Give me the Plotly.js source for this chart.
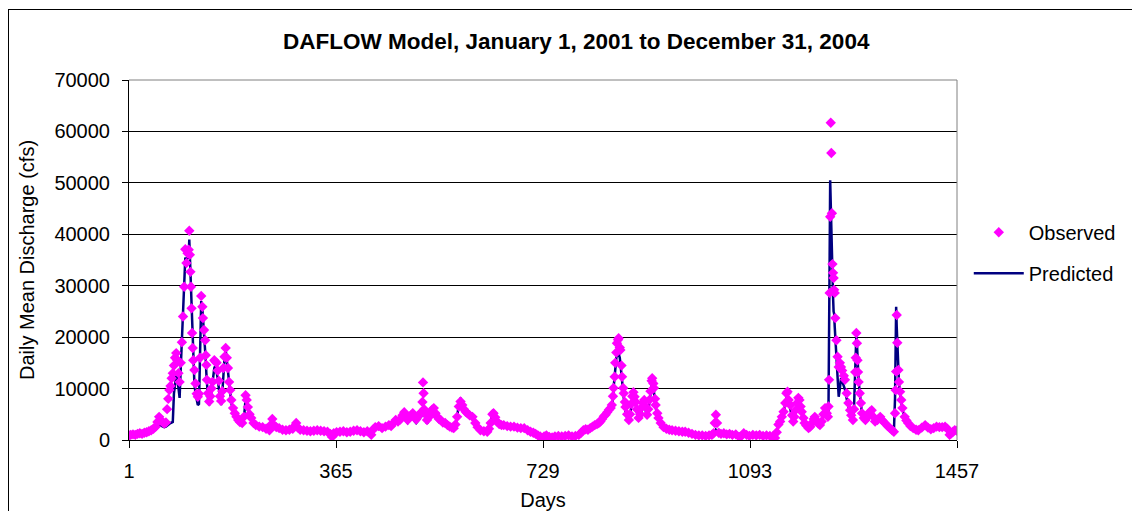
<!DOCTYPE html>
<html>
<head>
<meta charset="utf-8">
<script src="https://cdn.plot.ly/plotly-3.0.1.min.js"></script>
<style>
  html, body { margin: 0; padding: 0; background: #fff; overflow: hidden; }
  #chart { position: absolute; left: 0; top: 0; width: 1132px; height: 511px; }
  #frame { position: absolute; left: 8px; top: 9px; width: 1300px; height: 700px; border: 1px solid #000; pointer-events: none; }
</style>
</head>
<body>
<div id="chart"></div>
<div id="frame"></div>
<script>
// ---- data ----
const days = [
  1,4,8,12,16,20,24,28,32,36,
  40,44,48,51,54,57,60,63,66,68,
  70,72,74,76,78,80,82,84,86,88,
  90,92,94,96,98,100,102,104,106,107,
  108,109,110,111,112,113,114,116,118,120,
  122,124,126,128,130,131,133,135,136,137,
  138,140,142,144,146,148,151,153,155,157,
  159,161,163,165,167,169,171,173,175,177,
  179,181,184,187,190,193,196,200,203,206,
  208,210,213,216,220,224,230,236,242,248,
  251,253,256,260,265,271,277,283,289,293,
  295,298,302,308,314,320,326,332,338,344,
  350,355,358,361,366,372,378,384,390,396,
  402,408,414,420,424,427,430,434,440,446,
  452,458,462,466,470,474,478,482,485,488,
  491,494,497,500,503,506,509,512,515,517,
  518,519,520,522,525,528,531,534,537,540,
  543,546,549,553,557,561,565,569,572,575,
  578,581,584,587,590,593,596,600,605,610,
  614,619,625,631,634,637,640,642,645,648,
  652,656,660,666,672,678,684,690,696,702,
  707,712,716,720,724,727,731,735,740,745,
  750,756,762,768,774,780,786,792,796,800,
  804,808,812,816,820,824,827,830,833,836,
  839,842,845,848,850,852,853,855,856,858,
  859,861,862,864,865,867,868,870,871,873,
  874,877,880,882,884,886,888,890,892,894,
  897,900,903,905,907,909,912,914,916,918,
  920,921,923,924,926,927,930,932,936,941,
  946,951,956,962,968,974,979,985,991,997,
  1003,1009,1015,1021,1026,1029,1031,1033,1035,1038,
  1042,1047,1052,1057,1062,1068,1074,1078,1082,1087,
  1092,1098,1104,1110,1116,1122,1128,1133,1137,1140,
  1143,1146,1149,1152,1155,1157,1159,1161,1164,1167,
  1169,1171,1173,1176,1178,1180,1182,1184,1187,1189,
  1192,1196,1199,1202,1205,1207,1210,1213,1216,1219,
  1222,1225,1228,1230,1231,1232,1233,1234,1235,1236,
  1237,1238,1239,1240,1241,1242,1243,1245,1247,1249,
  1251,1253,1255,1258,1260,1263,1266,1269,1271,1274,
  1276,1278,1279,1280,1281,1282,1283,1284,1286,1288,
  1290,1293,1296,1300,1304,1307,1310,1313,1317,1322,
  1326,1330,1335,1339,1343,1346,1348,1349,1350,1351,
  1352,1354,1355,1357,1359,1361,1365,1368,1371,1375,
  1380,1385,1389,1395,1401,1406,1411,1416,1421,1426,
  1431,1436,1440,1444,1447,1450,1453,1457
];

const observed = [
  900,1000,1100,1000,1200,1300,1200,1400,1500,1700,
  1900,2200,2600,3500,4500,3800,3500,3200,3400,6000,
  8000,9700,10500,12000,13000,14500,16000,16900,15500,13000,
  11300,15000,19000,24000,29800,37100,34400,36300,37000,40700,
  36000,32700,29800,25600,20800,17900,15500,13600,11000,9000,
  8400,9000,16000,28000,25900,23700,21400,19400,16500,14600,
  11700,9100,7500,8500,10000,11300,15500,15200,15000,13500,
  11500,8500,7600,9500,14000,16200,17900,16000,14000,11300,
  9700,7800,6200,5200,4500,3900,3500,3300,4500,8700,
  7800,6400,5000,4300,3300,2900,2600,2500,2200,1900,
  3000,4100,2900,2500,2300,2000,1900,2000,2200,2800,
  3300,2400,2000,1900,1800,1700,1800,1900,1800,1700,
  1600,1200,600,1300,1500,1600,1700,1500,1600,1800,
  1900,1700,1500,1700,1400,1000,2000,2500,2700,2300,
  2600,2900,2700,3300,3900,3600,4000,4800,5400,4500,
  3900,4400,4800,5200,4500,4000,4500,5000,5400,7400,
  11200,9100,6000,5200,3900,4400,5200,5900,6200,5200,
  4500,4100,3900,3400,3300,2900,2600,2400,2300,3000,
  4500,6500,7500,6800,6000,5500,5200,4800,4500,3300,
  2500,1900,1700,1600,2200,3300,5000,5200,4400,3600,
  3100,2900,2900,2700,2600,2600,2400,2300,2300,1900,
  1600,1400,1200,900,700,400,700,900,600,500,
  700,800,700,800,900,700,800,1000,1400,1900,
  2100,2000,2300,2600,2900,3100,3300,3600,4100,4600,
  4900,5400,5900,6200,6800,8500,10100,12300,15000,17000,
  18800,19500,19800,18000,17500,14500,12300,10100,9100,7400,
  6400,5000,3900,5000,7000,8500,9300,8400,7400,6000,
  4300,5000,6400,7200,7800,6500,4900,6000,7800,9500,
  11500,12000,11000,10100,8000,6800,5200,4300,3300,2500,
  2200,2000,1900,1800,1700,1600,1600,1400,1200,1000,
  900,900,800,900,1000,1300,3300,4900,3300,1400,
  1200,1300,1100,1200,1000,1100,600,800,1300,1000,
  800,1000,900,1000,800,900,800,700,400,1500,
  3000,3600,4500,5500,7200,9100,9400,7800,6800,4800,
  3600,4500,5800,7200,8200,7800,6500,5500,4300,3300,
  2800,2300,2600,3300,4100,4500,3800,3200,2900,3600,
  5000,6200,5200,4500,6500,11700,28600,43400,61700,55800,
  44100,34200,32500,31500,29200,28600,23700,19400,16200,14200,
  15000,14200,13500,12500,11700,9100,7200,5800,4800,3900,
  6000,13200,16000,20800,18800,15500,13200,11300,9100,7200,
  5200,4300,3900,4500,5500,5800,4500,3600,3900,4500,
  3800,3300,2700,2300,1900,1600,5200,9700,13300,24300,
  18900,13600,11300,9400,7800,6200,4500,3800,3300,2700,
  2300,2000,1900,2400,2900,2400,2100,2300,2600,2500,
  2500,2600,2200,1000,1300,1600,1900,1800
];

const predicted = [
  800,850,900,900,1000,1100,1100,1200,1300,1400,
  1600,1800,2000,2400,3000,2800,2600,2500,2600,2800,
  3000,3200,3300,3400,3500,9000,11000,12500,12000,10000,
  8200,14000,20000,27000,33000,35500,35000,35500,36000,39000,
  36000,33000,30000,26000,21000,17500,14500,11000,9000,7500,
  6800,7000,20000,27000,25500,24000,21000,18000,15500,13000,
  10500,8000,6800,7500,9500,11000,14000,14500,13500,12000,
  10000,7800,6800,9000,13500,16000,17500,15500,13500,11000,
  9300,7200,5600,4600,3900,3400,3000,2800,4000,8000,
  7500,6000,4600,3900,3000,2600,2300,2200,2000,1800,
  2800,3800,2600,2300,2100,1900,1800,1800,2000,2600,
  3100,2200,1900,1800,1700,1600,1700,1700,1600,1600,
  1500,1100,700,1200,1400,1500,1500,1400,1500,1600,
  1700,1600,1400,1500,1300,1000,1900,2300,2500,2100,
  2400,2600,2500,3000,3500,3300,3600,4200,4800,3800,
  3300,3800,4200,4400,3700,3300,3700,4200,4500,4800,
  5000,5200,5000,4200,3200,3700,4400,5200,5500,4600,
  3900,3500,3300,2900,2800,2500,2300,2100,2100,2800,
  4500,7000,8200,7000,6000,5300,5000,4500,4100,3000,
  2300,1800,1600,1500,2100,3300,5400,5800,4500,3500,
  3000,2800,2700,2600,2500,2400,2300,2200,2100,1800,
  1500,1300,1100,900,700,500,700,800,600,500,
  700,700,700,800,800,700,800,900,1300,1700,
  1900,1900,2100,2400,2700,2900,3100,3400,3900,4300,
  4600,5000,5500,5800,6500,8000,10000,13000,14500,16000,
  16500,17000,16800,16000,15000,12500,11000,9000,8200,6500,
  5600,4300,3400,4600,6500,8000,8800,7900,6800,5400,
  3800,4600,6000,6800,7300,6000,4400,5500,7300,9000,
  11000,11500,10500,9500,7500,6400,4800,4000,3000,2300,
  2000,1900,1800,1700,1600,1500,1500,1300,1100,1000,
  900,800,800,800,900,1100,1500,2000,1800,1300,
  1100,1200,1000,1100,1000,1000,700,800,1200,900,
  800,900,900,900,800,800,800,700,500,1400,
  2800,3400,4200,5200,7000,8500,9000,7200,6000,4200,
  3200,4200,5500,7000,8000,7500,6000,5000,3900,3000,
  2500,2100,2400,3100,3900,4300,3500,2900,2600,3300,
  4700,5800,4800,4200,6000,15000,35000,50500,45000,38000,
  33000,30000,28000,25000,24500,22000,20000,17000,12000,8400,
  10000,12000,11500,10500,9800,8000,6200,5000,4200,3300,
  6500,14000,18000,20500,19000,16000,13500,11500,9200,7000,
  5000,4000,3600,4200,5200,5400,4100,3300,3600,4200,
  3500,3000,2500,2100,1700,1500,8000,18000,25900,22000,
  18000,13000,11000,9000,7500,6000,4300,3600,3100,2500,
  2200,1900,1800,2300,2800,2300,2000,2200,2500,2400,
  2400,2500,2100,1100,1300,1500,1800,1700
];

const xTickVals = [1, 365, 729, 1093, 1457];
const xTickText = ['1', '365', '729', '1093', '1457'];
const chartTitle = 'DAFLOW Model, January 1, 2001 to December 31, 2004';
const xTitle = 'Days';
const yTitle = 'Daily Mean Discharge (cfs)';

const FONT = 'Liberation Sans, Arial, Helvetica, sans-serif';

const traces = [
  {
    name: 'Predicted',
    x: days, y: predicted,
    type: 'scatter', mode: 'lines',
    line: { color: '#000080', width: 2.5 },
    legendrank: 2, legendgroup: 'p'
  },
  {
    name: 'Observed',
    x: days, y: observed,
    type: 'scatter', mode: 'markers',
    marker: { symbol: 'diamond', color: '#FF00FF', size: 8, line: { width: 0 } },
    legendrank: 1, legendgroup: 'o'
  }
];

const layout = {
  width: 1132, height: 511,
  margin: { l: 129, r: 174, t: 80, b: 71, pad: 0 },
  paper_bgcolor: 'rgba(0,0,0,0)',
  plot_bgcolor: '#ffffff',
  font: { family: FONT, size: 20, color: '#000' },
  title: {
    text: '<b>' + chartTitle + '</b>',
    font: { family: FONT, size: 22.5, color: '#000' },
    x: 0.509, xref: 'container', xanchor: 'center',
    y: 1 - 41 / 511, yref: 'container', yanchor: 'middle'
  },
  xaxis: {
    range: [1, 1457],
    tickmode: 'array', tickvals: xTickVals, ticktext: xTickText,
    ticks: 'outside', ticklen: 7, tickcolor: '#000', tickwidth: 1,
    showline: true, linecolor: '#000', linewidth: 1,
    showgrid: false, zeroline: false,
    ticklabelstandoff: 6,
    title: { text: xTitle, font: { family: FONT, size: 20 }, standoff: 12 },
    tickfont: { family: FONT, size: 20 }
  },
  yaxis: {
    range: [0, 70000],
    tickmode: 'linear', tick0: 0, dtick: 10000,
    tickformat: 'd',
    ticks: 'outside', ticklen: 6, tickcolor: '#000', tickwidth: 1,
    showline: true, linecolor: '#000', linewidth: 1,
    showgrid: true, gridcolor: '#000', gridwidth: 1,
    zeroline: false,
    ticklabelstandoff: 8,
    title: { text: yTitle, font: { family: FONT, size: 20 }, standoff: 14 },
    tickfont: { family: FONT, size: 20 }
  },
  shapes: [
    { type: 'line', xref: 'paper', yref: 'paper', x0: 0, x1: 1, y0: 1, y1: 1,
      line: { color: '#808080', width: 1 }, layer: 'above' },
    { type: 'line', xref: 'paper', yref: 'paper', x0: 1, x1: 1, y0: 0, y1: 1,
      line: { color: '#808080', width: 1 }, layer: 'above' }
  ],
  showlegend: true,
  legend: {
    x: 1.013, xanchor: 'left', y: 0.52, yanchor: 'middle',
    font: { family: FONT, size: 20, color: '#000' },
    bgcolor: 'rgba(0,0,0,0)', borderwidth: 0,
    itemwidth: 50, tracegroupgap: 12
  }
};

if (days.length !== observed.length || days.length !== predicted.length) {
  layout.title.text = 'LENGTH MISMATCH ' + days.length + ' ' + observed.length + ' ' + predicted.length;
}

Plotly.newPlot('chart', traces, layout, { staticPlot: true, displayModeBar: false });
</script>
</body>
</html>
